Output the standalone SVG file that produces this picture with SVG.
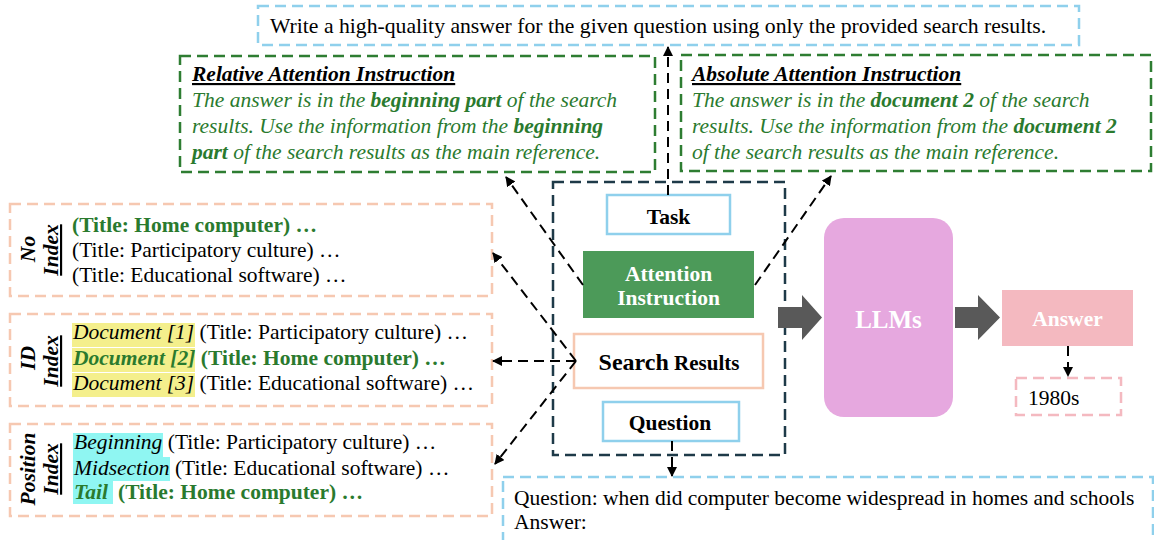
<svg xmlns="http://www.w3.org/2000/svg" width="1154" height="540" viewBox="0 0 1154 540">
<defs>
<marker id="ah" viewBox="0 0 10 10" refX="9" refY="5" markerWidth="10" markerHeight="10" markerUnits="userSpaceOnUse" orient="auto">
<path d="M0,0 L10,5 L0,10 z" fill="#000"/>
</marker>
<style>
.dash{fill:none;stroke-width:2.5;stroke-dasharray:11,6;}
.blue{stroke:#8fd0ec;}
.green{stroke:#2e7d32;}
.peach{stroke:#f6c8b1;}
.navy{stroke:#1e3a48;}
.pink{stroke:#f4b9c0;}
.conn{fill:none;stroke:#000;stroke-width:2;stroke-dasharray:10,6;marker-end:url(#ah);}
.t{font-size:21.5px;fill:#000;}
.g{fill:#2a7a2e;}
.b{font-weight:bold;}
.i{font-style:italic;}
.hdr{font-size:21.5px;font-weight:bold;font-style:italic;text-decoration:underline;fill:#000;}
.lbl{font-size:21.5px;font-weight:bold;font-style:italic;fill:#000;}
</style>
</defs>
<g font-family="Liberation Serif, Times New Roman, serif">

<g id="task-text">
<rect x="258" y="6" width="821" height="39" class="dash blue"/>
<text x="270" y="33" class="t" style="font-size:21.7px">Write a high-quality answer for the given question using only the provided search results.</text>
</g>

<g id="relative">
<rect x="180" y="56" width="475" height="116" class="dash green"/>
<text x="192" y="81" class="hdr">Relative Attention Instruction</text>
<text x="192" y="107" class="t i g">The answer is in the <tspan class="b">beginning part</tspan> of the search</text>
<text x="192" y="133" class="t i g">results. Use the information from the <tspan class="b">beginning</tspan></text>
<text x="192" y="159" class="t i g"><tspan class="b">part</tspan> of the search results as the main reference.</text>
</g>

<g id="absolute">
<rect x="681" y="55" width="470" height="116" class="dash green"/>
<text x="692" y="81" class="hdr">Absolute Attention Instruction</text>
<text x="692" y="107" class="t i g">The answer is in the <tspan class="b">document 2</tspan> of the search</text>
<text x="692" y="133" class="t i g">results. Use the information from the <tspan class="b">document 2</tspan></text>
<text x="692" y="159" class="t i g">of the search results as the main reference.</text>
</g>

<g id="no-index">
<rect x="10" y="204" width="482" height="92" class="dash peach"/>
<text transform="translate(35,249) rotate(-90)" text-anchor="middle" class="lbl">No</text>
<text transform="translate(58,250) rotate(-90)" text-anchor="middle" class="lbl" text-decoration="underline">Index</text>
<text x="72" y="232" class="t b g">(Title: Home computer) …</text>
<text x="72" y="257" class="t">(Title: Participatory culture) …</text>
<text x="72" y="282" class="t">(Title: Educational software) …</text>
</g>

<g id="id-index">
<rect x="10" y="314" width="482" height="92" class="dash peach"/>
<rect x="72" y="323" width="123" height="24" fill="#f4ef8c"/>
<rect x="72" y="348" width="123" height="24" fill="#f4ef8c"/>
<rect x="72" y="373" width="123" height="24" fill="#f4ef8c"/>
<text transform="translate(35,358) rotate(-90)" text-anchor="middle" class="lbl">ID</text>
<text transform="translate(58,361) rotate(-90)" text-anchor="middle" class="lbl" text-decoration="underline">Index</text>
<text x="73" y="339" class="t"><tspan class="i">Document [1]</tspan> (Title: Participatory culture) …</text>
<text x="73" y="365" class="t b g"><tspan class="i">Document [2]</tspan> (Title: Home computer) …</text>
<text x="73" y="390" class="t"><tspan class="i">Document [3]</tspan> (Title: Educational software) …</text>
</g>

<g id="position-index">
<rect x="10" y="424" width="482" height="92" class="dash peach"/>
<rect x="73" y="433" width="90" height="24" fill="#8ff6f2"/>
<rect x="73" y="457" width="97" height="24" fill="#8ff6f2"/>
<rect x="73" y="481" width="40" height="23" fill="#8ff6f2"/>
<text transform="translate(35,469) rotate(-90)" text-anchor="middle" class="lbl">Position</text>
<text transform="translate(58,469) rotate(-90)" text-anchor="middle" class="lbl" text-decoration="underline">Index</text>
<text x="74" y="449" class="t"><tspan class="i">Beginning</tspan> (Title: Participatory culture) …</text>
<text x="74" y="475" class="t"><tspan class="i">Midsection</tspan> (Title: Educational software) …</text>
<text x="74" y="499" class="t b g"><tspan class="i">Tail</tspan><tspan x="118">(Title: Home computer) …</tspan></text>
</g>

<g id="prompt">
<rect x="553" y="182" width="232" height="273" class="dash navy"/>
</g>

<g id="task">
<rect x="607" y="195" width="123" height="39" fill="#fff" stroke="#8fd0ec" stroke-width="2.5"/>
<text x="668.5" y="224" text-anchor="middle" class="t b">Task</text>
</g>

<g id="attention">
<rect x="583" y="251" width="171" height="67" fill="#4c9a59"/>
<text x="668.5" y="281" text-anchor="middle" class="t b" style="fill:#fff">Attention</text>
<text x="668.5" y="305" text-anchor="middle" class="t b" style="fill:#fff">Instruction</text>
</g>

<g id="search">
<rect x="574" y="334" width="189" height="54" fill="#fff" stroke="#f6c8b1" stroke-width="2.5"/>
<text x="669" y="370" text-anchor="middle" font-weight="bold" fill="#000"><tspan font-size="24">Search</tspan><tspan font-size="21"> Results</tspan></text>
</g>

<g id="question">
<rect x="603" y="402" width="136" height="39" fill="#fff" stroke="#8fd0ec" stroke-width="2.5"/>
<text x="670" y="430" text-anchor="middle" class="t b">Question</text>
</g>

<g id="llms">
<rect x="824" y="218" width="129" height="199" rx="20" fill="#e6a8df"/>
<text x="888.5" y="328" text-anchor="middle" font-weight="bold" font-size="25" fill="#fff">LLMs</text>
</g>

<g id="answer">
<rect x="1002" y="290" width="131" height="56" fill="#f4b9c0"/>
<text x="1067.5" y="326" text-anchor="middle" class="t b" style="fill:#fff">Answer</text>
</g>

<g id="answer-value">
<rect x="1016" y="378" width="105" height="37" class="dash pink"/>
<text x="1028" y="405" class="t">1980s</text>
</g>

<g id="question-text">
<rect x="503" y="477" width="650" height="80" class="dash blue"/>
<text x="514" y="505" class="t">Question: when did computer become widespread in homes and schools</text>
<text x="514" y="529" class="t">Answer:</text>
</g>

<g id="connectors">
<path d="M668,195 V47" class="conn"/>
<path d="M583,285 L506,177" class="conn"/>
<path d="M755,285 L831,176" class="conn"/>
<path d="M576,361 L493,253" class="conn"/>
<path d="M576,361 H493" class="conn"/>
<path d="M576,361 L495,464" class="conn"/>
<path d="M672,441 V476" class="conn"/>
<path d="M1068,346 V376" class="conn"/>
<path d="M778,307 H802 V295 L822,317.5 L802,340 V328 H778 z" fill="#595959"/>
<path d="M955,307 H978 V295 L1000,317.5 L978,340 V328 H955 z" fill="#595959"/>
</g>
</g>
</svg>
